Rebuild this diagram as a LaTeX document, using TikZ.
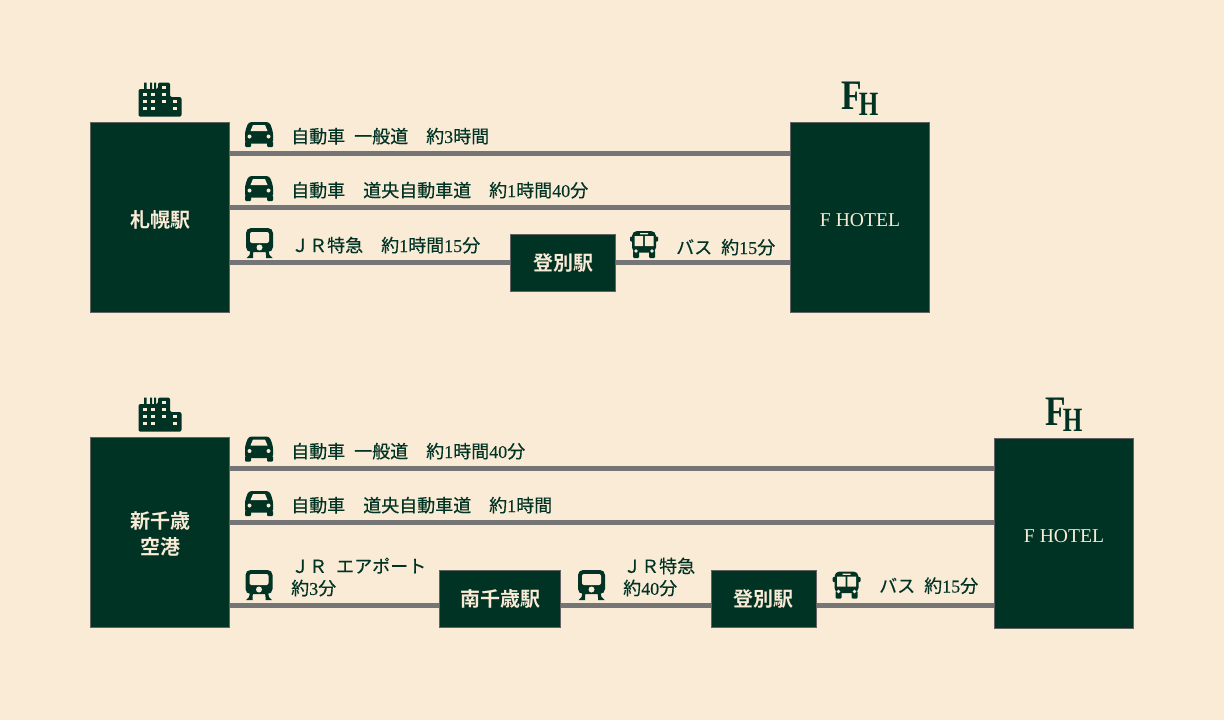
\documentclass[tikz,border=0pt]{standalone}
\usepackage{fontspec}
\setmainfont{Liberation Serif}
\newfontfamily\jpfont[FakeBold=.35]{Noto Sans CJK JP}
\newfontfamily\jpbold{Noto Sans CJK JP Bold}
\newfontfamily\numfont[FakeBold=.35]{Liberation Serif}
\usetikzlibrary{positioning}

% digits inside the labels are set in the serif
\newcommand{\dg}[1]{{\numfont #1}}
% move a text down and keep its height for the node
\newcommand{\down}[2]{\raisebox{-#1}[\height][\depth]{#2}}
\newcommand{\labelfont}{\jpfont\fontsize{18}{22}\selectfont\spaceskip=.5em\relax}
\newcommand{\boxfont}{\jpbold\fontsize{20}{25}\selectfont}

\definecolor{cream}{HTML}{FAEBD7}
\definecolor{darkgreen}{HTML}{003324}
\definecolor{railgray}{HTML}{757575}

\tikzset{
  station/.style={draw=railgray!85!black, line width=1pt, fill=darkgreen, text=cream, inner sep=0pt, align=center},
  bigbox/.style={station, minimum width=139pt, minimum height=190pt},
  stopbox/.style={station, minimum height=56.5pt, font=\boxfont},
  rail/.style={draw=railgray, line width=5pt},
  routetext/.style={text=darkgreen, inner sep=0pt, font=\labelfont, align=left},
  fhlogo/.style={text=darkgreen, inner sep=0pt, font=\bfseries},
  car/.pic={
    \fill[darkgreen, rounded corners=3pt] (-14,-3) -- (-10.5,-12.5) -- (10.5,-12.5) -- (14,-3) -- (14,9) -- (-14,9) -- cycle;
    \fill[darkgreen, rounded corners=1pt] (-14,7) rectangle (-8,12.5) (8,7) rectangle (14,12.5);
    \fill[cream] (-8.5,-3.5) -- (-6,-9.5) -- (6,-9.5) -- (8.5,-3.5) -- cycle;
    \fill[cream] (-9.5,2) circle (2) (9.5,2) circle (2);
  },
  train/.pic={
    \fill[darkgreen, rounded corners=5pt] (-13.5,-15) rectangle (13.5,9);
    \fill[cream, rounded corners=2pt] (-9.5,-11) rectangle (9.5,0);
    \fill[cream] (0,4.5) circle (3);
    \fill[darkgreen] (-9,8) -- (-6,8) -- (-6.5,12) -- (-6.5,15) -- (-13,15) -- (-10,12) -- cycle (9,8) -- (6,8) -- (6.5,12) -- (6.5,15) -- (13,15) -- (10,12) -- cycle;
  },
  bus/.pic={
    \fill[darkgreen, rounded corners=5pt] (-12,-13.5) rectangle (12,8);
    \fill[darkgreen, rounded corners=1pt] (-14,-8) rectangle (14,-3);
    \fill[darkgreen, rounded corners=1pt] (-11,6) rectangle (-5,13.5) (5,6) rectangle (11,13.5);
    \fill[cream] (-9.5,-8.5) rectangle (-.8,1.5) (.8,-8.5) rectangle (9.5,1.5) (-4,-11.3) rectangle (4,-10.2);
    \fill[cream] (-8,6.5) circle (1.8) (8,6.5) circle (1.8);
  },
  building/.pic={
    \fill[darkgreen, rounded corners=2pt] (-21.5,-11) -- (-2,-11) -- (-2,-17.5) -- (10,-17.5) -- (10,-3) -- (21.5,-3) -- (21.5,16.7) -- (-21.5,16.7) -- cycle;
    \fill[darkgreen] (-16,-17.5) rectangle (-13.5,-8) (-10,-17.5) rectangle (-8,-8) (-6,-17.5) rectangle (-4,-8);
    \foreach \wx/\wy in {-17.2/-7,-8.8/-7,-17.2/0,-8.8/0,-17.2/7,-8.8/7,2/-14,2/-7,2/0,13/0,13/7}
      \fill[cream] (\wx,\wy) rectangle +(4.2,3.4);
  }
}
\newcommand{\fhmark}{\fontsize{42}{42}\selectfont\scalebox{.8}[1]{F}\kern-3pt\raisebox{-6pt}{\fontsize{34}{34}\selectfont\scalebox{.74}[1]{H}}}

\begin{document}
\begin{tikzpicture}[x=1pt,y=-1pt]
  \path[use as bounding box, fill=cream] (0,0) rectangle (1224,720);

% define the boxes of the upper route
  \node[bigbox, font=\boxfont] (sapporo) at (160,217.5) {\down{2pt}{札幌駅}};
  \node[bigbox, font=\fontsize{19.6}{24}\selectfont] (hotelA) at (860,217.5) {\down{3pt}{F HOTEL}};
  \node[stopbox, minimum width=105pt] (noboA) at (563,263) {登別駅};
  \node[fhlogo, above=6pt of hotelA] (logoA) {\fhmark};

% define the boxes of the lower route
  \node[bigbox, font=\boxfont] (chitose) at (160,532.5) {\down{1pt}{新千歳}\\\down{2pt}{空港}};
  \node[bigbox, font=\fontsize{19.6}{24}\selectfont] (hotelB) at (1064,533.5) {\down{3pt}{F HOTEL}};
  \node[stopbox, minimum width=121pt] (minami) at (500,599) {南千歳駅};
  \node[stopbox, minimum width=105pt] (noboB) at (763.5,599) {登別駅};
  \node[fhlogo, above=6pt of hotelB] (logoB) {\fhmark};

% ends of the rails
  \coordinate (a1) at (230,153.5);
  \coordinate (a2) at (230,207.5);
  \coordinate (a3) at (230,262.5);
  \coordinate (b1) at (230,468);
  \coordinate (b2) at (230,522.5);
  \coordinate (b3) at (230,605.5);

% define the links
  \path[rail] (a1) edge (a1 -| hotelA.west)
        (a2) edge (a2 -| hotelA.west)
        (a3) edge (a3 -| noboA.west)
        (a3 -| noboA.east) edge (a3 -| hotelA.west)
        (b1) edge (b1 -| hotelB.west)
        (b2) edge (b2 -| hotelB.west)
        (b3) edge (b3 -| minami.west)
        (b3 -| minami.east) edge (b3 -| noboB.west)
        (b3 -| noboB.east) edge (b3 -| hotelB.west);

% icons
  \pic at (160,100) {building};
  \pic at (160,415) {building};
  \pic at (259,134.5) {car};
  \pic at (259,188.5) {car};
  \pic at (259.5,243) {train};
  \pic at (644,244.5) {bus};
  \pic at (259,449) {car};
  \pic at (259,503.5) {car};
  \pic at (259,585) {train};
  \pic at (591.5,585) {train};
  \pic at (846.5,585) {bus};

% route labels
  \node[routetext, anchor=base west] (ta1) at (291,143) {自動車 一般道　約\dg{3}時間};
  \node[routetext, anchor=base west] (ta2) at (291,197) {自動車　道央自動車道　約\dg{1}時間\dg{40}分};
  \node[routetext, anchor=base west] (ta3) at (291,252) {ＪＲ特急　約\dg{1}時間\dg{15}分};
  \node[routetext, anchor=base west] (ta4) at (676,254) {バス 約\dg{15}分};
  \node[routetext, anchor=base west] (tb1) at (291,458) {自動車 一般道　約\dg{1}時間\dg{40}分};
  \node[routetext, anchor=base west] (tb2) at (291,512) {自動車　道央自動車道　約\dg{1}時間};
  \node[routetext, anchor=west] (tb3) at (291,577) {ＪＲ エアポート\\約\dg{3}分};
  \node[routetext, anchor=west] (tb4) at (623,577) {ＪＲ特急\\約\dg{40}分};
  \node[routetext, anchor=base west] (tb5) at (879,592.5) {バス 約\dg{15}分};
\end{tikzpicture}
\end{document}
